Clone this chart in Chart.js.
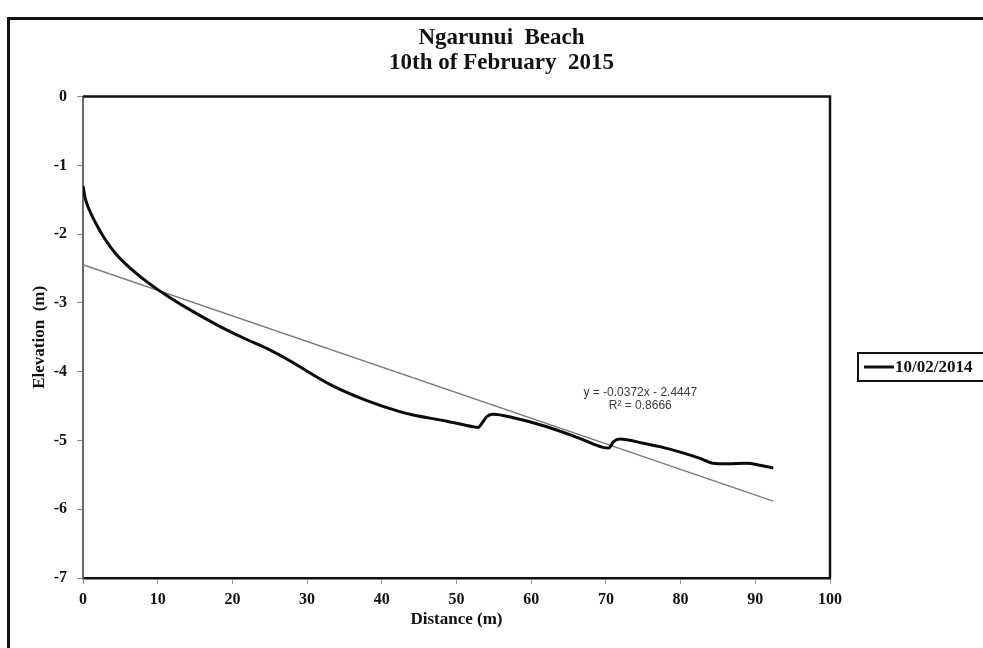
<!DOCTYPE html>
<html>
<head>
<meta charset="utf-8">
<title>Ngarunui Beach profile</title>
<script src="https://cdn.jsdelivr.net/npm/chart.js@4.4.1/dist/chart.umd.min.js"></script>
<style>
  html, body { margin: 0; padding: 0; background: #fff; }
  #wrap { position: relative; width: 983px; height: 648px; overflow: hidden; background: #fff; }
  #frame { position: absolute; left: 7px; top: 17px; width: 1100px; height: 800px; border: 3px solid #111; }
  #chart { position: absolute; left: 0; top: 0; }
</style>
</head>
<body>
<div id="wrap">
  <div id="frame"></div>
  <canvas id="chart" width="983" height="648"></canvas>
</div>
<script>
// Beach profile, distance (m) vs elevation (m)
const distance = [0, 0.3, 0.9, 1.8, 2.7, 4.5, 6.7, 9.4, 11.6, 14.8, 18.3, 21.5, 24.6, 27.7, 30.4, 33.5,
  38, 42.4, 44.2, 48.7, 52.2, 52.9, 53.4, 54.1, 54.9, 57.6, 62.1, 66.5, 69.6, 70.4, 71.0, 71.9, 75.0,
  77.2, 80.3, 82.6, 84.3, 86.2, 88.9, 90.6, 92.4];
const elevation = [-1.30, -1.48, -1.66, -1.86, -2.03, -2.30, -2.53, -2.76, -2.92, -3.13, -3.34, -3.51,
  -3.66, -3.84, -4.02, -4.21, -4.42, -4.58, -4.63, -4.72, -4.80, -4.81, -4.75, -4.65, -4.62, -4.67,
  -4.80, -4.97, -5.10, -5.11, -5.02, -4.98, -5.04, -5.09, -5.18, -5.26, -5.33, -5.34, -5.33, -5.36,
  -5.40];

const surveyLabel = "10/02/2014";
const titleLines = ["Ngarunui  Beach", "10th of February  2015"];

// linear trendline as reported on the chart
const SLOPE = -0.0372;
const INTERCEPT = -2.4447;
const R2 = 0.8666;

const SERIF = "'Liberation Serif', 'Times New Roman', serif";
const INK = "#111";

const profile = distance.map((x, i) => ({ x, y: elevation[i] }));
const xEnd = distance[distance.length - 1];
const trend = [0, xEnd].map((x) => ({ x, y: SLOPE * x + INTERCEPT }));

// plot box top/right edges, trendline equation and the boxed legend
const extras = {
  id: "extras",
  afterDatasetsDraw(chart) {
    const { ctx, chartArea: a, scales } = chart;
    ctx.save();
    ctx.strokeStyle = INK;
    ctx.lineWidth = 2.5;
    ctx.beginPath();
    ctx.moveTo(a.left, a.top);
    ctx.lineTo(a.right, a.top);
    ctx.lineTo(a.right, a.bottom);
    ctx.stroke();

    const ex = scales.x.getPixelForValue(74.6);
    ctx.fillStyle = "#3a3a3a";
    ctx.font = "12px 'Liberation Sans', Arial, sans-serif";
    ctx.textAlign = "center";
    ctx.textBaseline = "middle";
    ctx.fillText("y = " + SLOPE + "x - " + Math.abs(INTERCEPT), ex, scales.y.getPixelForValue(-4.3));
    ctx.fillText("R² = " + R2, ex, scales.y.getPixelForValue(-4.49));
    ctx.restore();
  },
  afterDraw(chart) {
    const { ctx } = chart;
    ctx.save();
    ctx.strokeStyle = INK;
    ctx.lineWidth = 2;
    ctx.strokeRect(858, 353, 150, 28);
    ctx.lineWidth = 3;
    ctx.beginPath();
    ctx.moveTo(864, 367);
    ctx.lineTo(894, 367);
    ctx.stroke();
    ctx.fillStyle = INK;
    ctx.font = "bold 17px " + SERIF;
    ctx.textAlign = "left";
    ctx.textBaseline = "middle";
    ctx.fillText(surveyLabel, 895, 368);
    ctx.restore();
  },
};

new Chart(document.getElementById("chart"), {
  type: "line",
  data: {
    datasets: [
      {
        label: surveyLabel,
        data: profile,
        borderColor: "#0b0b0b",
        borderWidth: 3,
        pointRadius: 0,
        cubicInterpolationMode: "monotone",
        fill: false,
      },
      {
        label: "Linear",
        data: trend,
        borderColor: "#7a7a7a",
        borderWidth: 1.5,
        pointRadius: 0,
        tension: 0,
        fill: false,
      },
    ],
  },
  options: {
    responsive: false,
    animation: false,
    layout: { padding: { left: 20, right: 0, top: 0, bottom: 18 } },
    plugins: {
      legend: { display: false },
      tooltip: { enabled: false },
      title: {
        display: true,
        text: titleLines,
        color: INK,
        font: { family: SERIF, size: 23, weight: "bold", lineHeight: 1.1 },
        padding: { top: 25, bottom: 21 },
      },
    },
    scales: {
      x: {
        type: "linear",
        position: "bottom",
        min: 0,
        max: 100,
        ticks: { stepSize: 10, color: INK, padding: 6, font: { family: SERIF, size: 16, weight: "bold" } },
        grid: { display: true, drawOnChartArea: false, drawTicks: true, tickLength: 6, color: "#999" },
        border: { display: true, color: INK, width: 2.5 },
        title: {
          display: true,
          text: "Distance (m)",
          color: INK,
          padding: { top: 0, bottom: 0 },
          font: { family: SERIF, size: 17, weight: "bold" },
        },
        afterFit(s) { s.height = 52; },
      },
      y: {
        type: "linear",
        position: "left",
        min: -7,
        max: 0,
        ticks: { stepSize: 1, color: INK, padding: 10, font: { family: SERIF, size: 16, weight: "bold" } },
        grid: { display: true, drawOnChartArea: false, drawTicks: true, tickLength: 6, color: "#888" },
        border: { display: true, color: "#6a6a6a", width: 2 },
        title: {
          display: true,
          text: "Elevation  (m)",
          color: INK,
          padding: { top: 9, bottom: 0 },
          font: { family: SERIF, size: 17, weight: "bold" },
        },
        afterFit(s) { s.width = 63; },
      },
      // blank strip on the right that holds the legend box
      side: {
        type: "linear",
        position: "right",
        display: true,
        ticks: { display: false },
        grid: { display: false },
        border: { display: false },
        afterFit(s) { s.width = 153; },
      },
    },
  },
  plugins: [extras],
});
</script>
</body>
</html>
